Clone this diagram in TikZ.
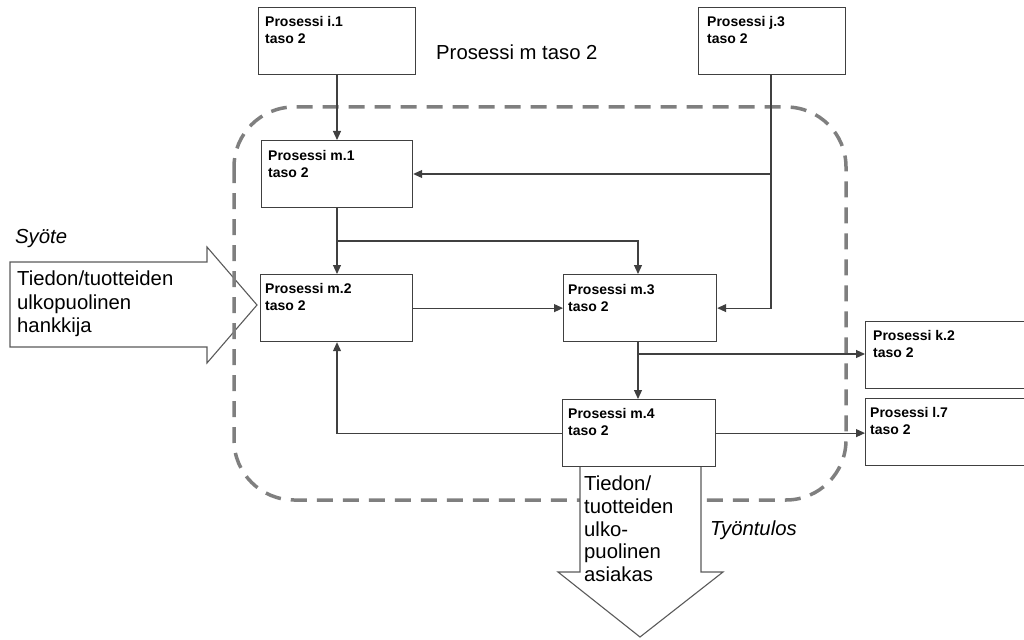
\documentclass[tikz,border=0pt]{standalone}
\usepackage{fontspec}
\setmainfont{Liberation Sans}
\usetikzlibrary{arrows.meta,calc}
\definecolor{linec}{HTML}{404040}
\definecolor{dashc}{HTML}{7F7F7F}
\definecolor{bigc}{HTML}{5A5A5A}
\begin{document}
\begin{tikzpicture}[x=1pt,y=-1pt,
  proc/.style={draw=linec, line width=1.2pt, fill=white, anchor=north west,
    inner sep=0pt, minimum width=#1, minimum height=67pt},
  proc/.default=152pt,
  ptxt/.style={anchor=north west, inner sep=0pt, align=left,
    font=\fontsize{14}{17}\selectfont\bfseries},
  big/.style={anchor=north west, inner sep=0pt, align=left,
    font=\fontsize{20.3}{23.5}\selectfont},
  bigit/.style={anchor=north west, inner sep=0pt,
    font=\fontsize{20.3}{23.5}\selectfont\itshape},
  conn/.style={draw=linec, line width=1.1pt,
    -{Triangle[length=9pt,width=8pt]}},
  plain/.style={draw=linec, line width=1.1pt},
  blockarrow/.style={draw=bigc, line width=1.1pt, fill=white, line join=miter},
  boundary/.style={draw=dashc, line width=3.5pt, dash pattern=on 16pt off 10pt,
    rounded corners=60pt}
]
\useasboundingbox (0,0) rectangle (1024,639);

% incoming block arrow (drawn below the dashed boundary)
\draw[blockarrow] (10,262) -- (207,262) -- (207,247) -- (257,305)
  -- (207,363) -- (207,347) -- (10,347) -- cycle;
\node[big] (inTxt) at (17,271) {Tiedon/tuotteiden\\ulkopuolinen\\hankkija};
\node[bigit] (synote) at (15,229) {Syöte};

% process boundary
\draw[boundary] (234,107) rectangle (846,500);
\node[big] (mTitle) at (436,45) {Prosessi m taso 2};

% outgoing block arrow
\draw[blockarrow] (580,465) -- (580,572) -- (558,572) -- (640,637)
  -- (723,572) -- (701,572) -- (701,465);
\node[big, font=\fontsize{20.3}{22.6}\selectfont] (outTxt) at (584,476)
  {Tiedon/\\tuotteiden\\ulko-\\puolinen\\asiakas};
\node[bigit] (tyontulos) at (710,521) {Työntulos};

% process boxes
\node[proc=157pt] (i1) at (258,7) {};
\node[proc=147pt] (j3) at (698,7) {};
\node[proc=151pt] (m1) at (261,140) {};
\node[proc=152pt] (m2) at (260,274) {};
\node[proc=153pt] (m3) at (563,274) {};
\node[proc=153pt] (m4) at (562,399) {};
\node[proc=170pt] (k2) at (865,321) {};
\node[proc=170pt] (l7) at (865,398) {};

\node[ptxt] (i1t) at ($(i1.north west)+(7,9)$) {Prosessi i.1\\taso 2};
\node[ptxt] (j3t) at ($(j3.north west)+(9,9)$) {Prosessi j.3\\taso 2};
\node[ptxt] (m1t) at ($(m1.north west)+(7,10)$) {Prosessi m.1\\taso 2};
\node[ptxt] (m2t) at ($(m2.north west)+(5,9)$) {Prosessi m.2\\taso 2};
\node[ptxt] (m3t) at ($(m3.north west)+(5,10)$) {Prosessi m.3\\taso 2};
\node[ptxt] (m4t) at ($(m4.north west)+(6,9)$) {Prosessi m.4\\taso 2};
\node[ptxt] (k2t) at ($(k2.north west)+(8,9)$) {Prosessi k.2\\taso 2};
\node[ptxt] (l7t) at ($(l7.north west)+(5,9)$) {Prosessi l.7\\taso 2};

% junction points
\coordinate (jA) at (771,174);
\coordinate (jB) at (337,241);
\coordinate (jC) at (638,354);

% connectors
\draw[conn] (i1.south -| jB) -- (m1.north -| jB);
\draw[plain] (j3.south -| jA) -- (jA);
\draw[conn] (jA) -- (m1.east |- jA);
\draw[conn] (jA) -- (jA |- m3.east) -- (m3.east);
\draw[plain] (m1.south -| jB) -- (jB);
\draw[conn] (jB) -- (m2.north -| jB);
\draw[conn] (jB) -- (jB -| jC) -- (m3.north -| jC);
\draw[conn] (m2.east) -- (m3.west);
\draw[plain] (m3.south -| jC) -- (jC);
\draw[conn] (jC) -- (m4.north -| jC);
\draw[conn] (jC) -- (k2.west |- jC);
\draw[conn] (m4.east) -- (l7.west |- m4.east);
\draw[conn] (m4.west) -- (m4.west -| jB) -- (m2.south -| jB);
\end{tikzpicture}
\end{document}
